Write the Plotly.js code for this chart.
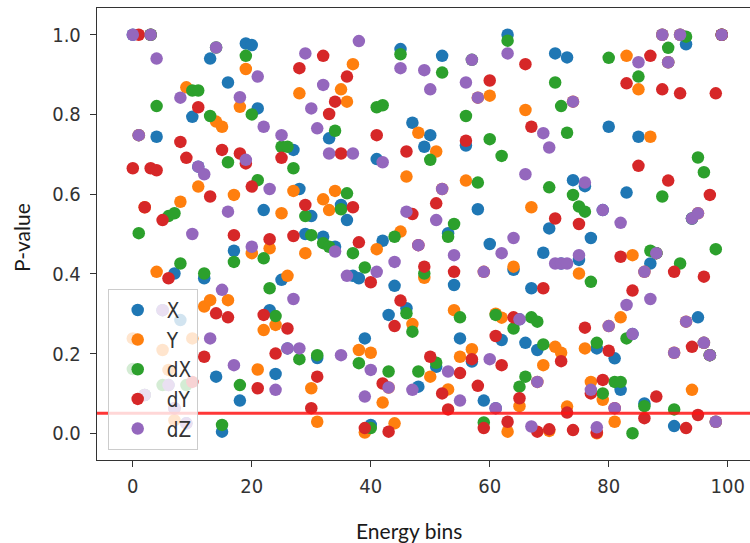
<!DOCTYPE html>
<html>
<head>
<meta charset="utf-8">
<script src="https://cdn.plot.ly/plotly-3.0.1.min.js"></script>
<style>html,body{margin:0;padding:0;background:#fff;}#chart{width:750px;height:543px;}</style>
</head>
<body>
<div id="chart"></div>
<script>
const energyBins = [0,1,2,3,4,5,6,7,8,9,10,11,12,13,14,15,16,17,18,19,20,21,22,23,24,25,26,27,28,29,30,31,32,33,34,35,36,37,38,39,40,41,42,43,44,45,46,47,48,49,50,51,52,53,54,55,56,57,58,59,60,61,62,63,64,65,66,67,68,69,70,71,72,73,74,75,76,77,78,79,80,81,82,83,84,85,86,87,88,89,90,91,92,93,94,95,96,97,98,99];

const pX = [1.0,0.748,0.096,1.0,0.744,0.309,0.121,0.401,0.284,0.025,
0.794,0.669,0.389,0.94,0.142,0.004,0.88,0.458,0.082,0.978,
0.974,0.815,0.56,0.309,0.149,0.385,0.213,0.711,0.613,0.5,
0.545,0.189,0.493,0.74,0.468,0.573,0.535,0.395,0.389,0.238,
0.021,0.688,0.483,0.297,0.37,0.964,0.314,0.779,0.117,0.719,
0.748,0.167,0.947,0.502,0.372,0.238,0.722,0.18,0.562,0.082,
0.475,0.063,0.234,1.0,0.41,0.286,0.227,0.364,0.209,0.453,
0.514,0.953,0.426,0.943,0.635,0.435,0.62,0.49,0.213,0.56,
0.769,0.188,0.109,0.604,0.249,0.744,0.075,0.426,0.452,1.0,
0.931,0.018,1.0,0.976,0.539,0.291,0.227,0.196,0.029,1.0];

const pY = [0.238,0.748,0.567,1.0,0.405,0.209,0.159,0.033,0.581,0.868,
0.238,0.619,0.318,0.334,0.782,0.769,0.334,0.598,0.819,0.914,
0.452,0.16,0.259,0.464,0.272,0.552,0.395,0.608,0.853,0.452,
0.113,0.029,0.587,0.56,0.608,0.863,0.832,0.926,0.209,0.002,
0.202,0.462,0.077,0.115,0.025,0.506,0.644,0.274,0.754,0.39,
0.142,0.707,0.613,0.11,0.309,0.192,0.634,0.211,0.842,0.405,
0.847,0.30,0.29,0.004,0.418,0.068,0.811,0.567,0.129,0.171,
0.006,0.217,0.202,0.067,0.832,0.401,0.213,0.129,0.0,0.084,
0.269,0.029,0.291,0.947,0.447,0.863,0.405,0.744,0.452,1.0,
0.931,0.202,1.0,0.28,0.109,0.552,0.227,0.196,0.029,1.0];

const pdX = [0.161,0.502,0.096,1.0,0.821,0.121,0.545,0.552,0.426,0.121,
0.86,0.86,0.401,0.796,0.968,0.021,0.68,0.43,0.121,0.947,
0.8,0.635,0.439,0.364,0.294,0.719,0.719,0.665,0.186,0.545,
0.497,0.196,0.477,0.468,0.759,0.562,0.602,0.452,0.176,0.416,
0.013,0.818,0.823,0.155,0.493,0.951,0.301,0.255,0.155,0.401,
0.686,0.177,0.905,0.493,0.525,0.291,0.796,0.937,0.629,0.027,
0.738,0.297,0.696,0.985,0.263,0.117,0.142,0.291,0.28,0.223,
0.617,0.88,0.821,0.754,0.598,0.569,0.556,0.38,0.227,0.1,
0.942,0.129,0.129,0.238,0.0,0.895,0.068,0.458,0.452,0.594,
0.967,0.06,0.426,0.995,0.539,0.692,0.655,0.196,0.462,1.0];

const pdY = [0.665,1.0,0.567,0.665,0.66,0.535,0.389,0.063,0.731,0.691,
0.129,0.818,0.192,0.594,0.301,0.711,0.291,0.497,0.702,0.677,
0.619,0.113,0.297,0.487,0.2,0.691,0.263,0.495,0.916,0.573,
0.063,0.142,0.947,0.801,0.832,0.702,0.895,0.567,0.479,0.013,
0.379,0.748,0.125,0.004,0.269,0.333,0.707,0.55,0.472,0.418,
0.192,0.577,0.1,0.06,0.405,0.151,0.734,0.186,0.119,0.013,
0.885,0.244,0.171,0.029,0.291,0.088,0.926,0.769,0.004,0.364,
0.01,0.539,0.181,0.052,0.008,0.525,0.265,0.1,0.002,0.134,
0.207,0.063,0.443,0.878,0.358,0.671,0.038,0.947,0.092,0.863,
0.634,0.405,0.853,0.013,0.217,0.046,0.393,0.598,0.853,1.0];

const pdZ = [1.0,0.748,0.096,1.0,0.94,0.309,0.121,0.063,0.842,0.025,
0.5,0.669,0.65,0.238,0.968,0.36,0.556,0.171,0.843,0.686,
0.468,0.895,0.769,0.613,0.109,0.748,0.213,0.337,0.213,0.953,
0.815,0.765,0.874,0.702,0.456,0.196,0.395,0.702,0.984,0.092,
0.159,0.405,0.68,0.115,0.43,0.916,0.556,0.109,0.472,0.911,
0.863,0.535,0.613,0.155,0.447,0.082,0.88,0.937,0.842,0.405,
0.186,0.063,0.452,0.953,0.49,0.286,0.65,0.017,0.129,0.753,
0.717,0.426,0.426,0.426,0.832,0.447,0.629,0.109,0.015,0.56,
0.269,0.063,0.528,0.322,0.249,0.931,0.405,0.337,0.452,1.0,
0.931,0.202,1.0,0.28,0.539,0.552,0.227,0.196,0.029,1.0];

const seriesNames = ['X','Y','dX','dY','dZ'];
const seriesValues = [pX, pY, pdX, pdY, pdZ];
const seriesColors = ['#1f77b4','#ff7f0e','#2ca02c','#d62728','#9467bd'];
const threshold = 0.05;
const xTickVals = [0,20,40,60,80,100];
const yTickVals = [0.0,0.2,0.4,0.6,0.8,1.0];
const xTitle = 'Energy bins';
const yTitle = 'P-value';

const tickFont = {family: 'DejaVu Sans Condensed, Noto Sans, DejaVu Sans, sans-serif', size: 20, color: '#333333'};
const titleFont = {family: 'Lato, Liberation Sans, sans-serif', size: 21, color: '#1a1a1a'};

const traces = seriesNames.map((name, i) => ({
  type: 'scatter',
  mode: 'markers',
  name: name,
  x: energyBins,
  y: seriesValues[i],
  marker: {color: seriesColors[i], size: 12.5, line: {width: 0}},
  hoverinfo: 'x+y+name'
}));

const layout = {
  width: 750,
  height: 543,
  margin: {l: 97, r: 0, t: 8, b: 83, pad: 0},
  paper_bgcolor: '#ffffff',
  plot_bgcolor: '#ffffff',
  showlegend: true,
  legend: {
    x: 0.0164, y: 0.378, xanchor: 'left', yanchor: 'top',
    bgcolor: 'rgba(255,255,255,0.8)',
    bordercolor: '#cccccc', borderwidth: 1,
    font: {family: 'DejaVu Sans Condensed, Noto Sans, DejaVu Sans, sans-serif', size: 20.5, color: '#333333'},
    itemwidth: 48,
    tracegroupgap: 0
  },
  xaxis: {
    range: [-6.02, 103.75],
    tickvals: xTickVals,
    ticktext: xTickVals.map(String),
    ticks: 'outside', ticklen: 6, tickwidth: 1, tickcolor: '#333333',
    showline: true, linecolor: '#333333', linewidth: 1.2, mirror: true,
    showgrid: false, zeroline: false,
    tickfont: tickFont,
    ticklabelstandoff: 2,
    automargin: false
  },
  yaxis: {
    range: [-0.067, 1.067],
    tickvals: yTickVals,
    ticktext: yTickVals.map(v => v.toFixed(1)),
    ticks: 'outside', ticklen: 6, tickwidth: 1, tickcolor: '#333333',
    showline: true, linecolor: '#333333', linewidth: 1.2, mirror: false,
    showgrid: false, zeroline: false,
    tickfont: tickFont,
    ticklabelstandoff: 5,
    automargin: false
  },
  shapes: [{
    type: 'line', xref: 'paper', x0: 0, x1: 1, yref: 'y', y0: threshold, y1: threshold,
    line: {color: 'rgba(255,20,20,0.85)', width: 3}, layer: 'above'
  }],
  annotations: [
    {text: xTitle, xref: 'paper', yref: 'paper', x: 0.4778, y: -0.1549, xanchor: 'center', yanchor: 'middle', showarrow: false, font: titleFont},
    {text: yTitle, xref: 'paper', yref: 'paper', x: -0.1149, y: 0.4934, xanchor: 'center', yanchor: 'middle', textangle: -90, showarrow: false, font: titleFont}
  ]
};

Plotly.newPlot('chart', traces, layout, {displayModeBar: false, staticPlot: true});
</script>
</body>
</html>
